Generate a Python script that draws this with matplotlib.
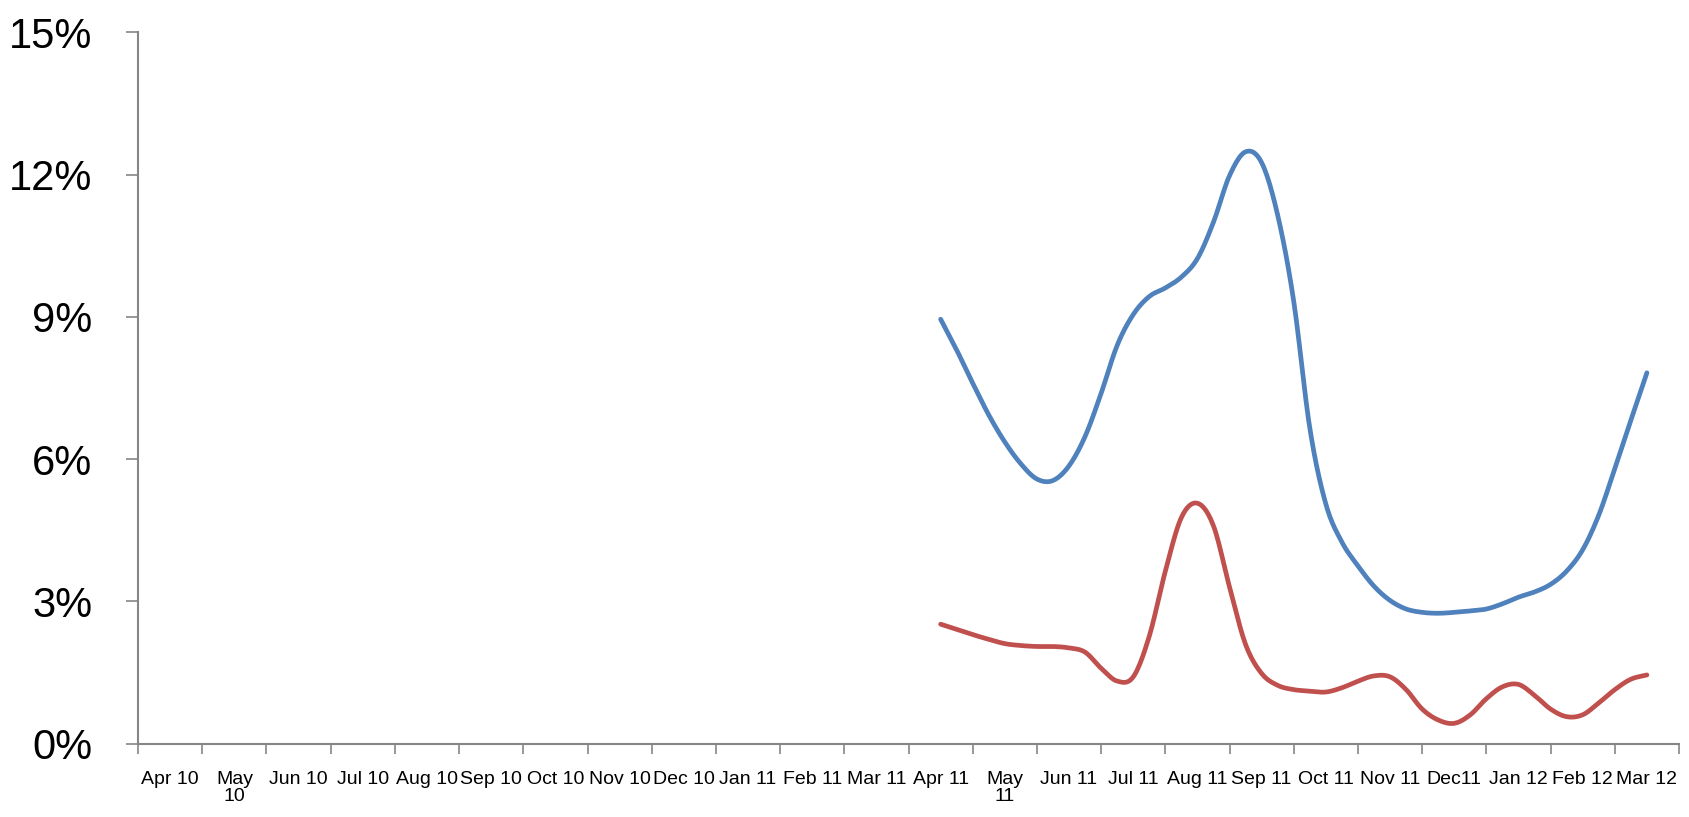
import numpy as np
import matplotlib
matplotlib.use("Agg")
import matplotlib.pyplot as plt
from matplotlib.ticker import FixedLocator, FuncFormatter

plt.rcParams['font.family'] = ['Liberation Sans', 'DejaVu Sans']

months = ["Apr 10", "May\n10", "Jun 10", "Jul 10", "Aug 10", "Sep 10", "Oct 10",
          "Nov 10", "Dec 10", "Jan 11", "Feb 11", "Mar 11", "Apr 11", "May\n11",
          "Jun 11", "Jul 11", "Aug 11", "Sep 11", "Oct 11", "Nov 11", "Dec11",
          "Jan 12", "Feb 12", "Mar 12"]

# series sampled every quarter month, starting Apr 11
start_month = 12
sample_step = 0.25

blue_vals = [8.95, 8.30, 7.60, 6.93, 6.36, 5.90, 5.58, 5.55, 5.86, 6.48,
             7.39, 8.40, 9.05, 9.43, 9.61, 9.84, 10.23, 11.00, 11.98, 12.48,
             12.25, 11.14, 9.32, 6.65, 5.05, 4.25, 3.75, 3.32, 3.02, 2.84,
             2.77, 2.75, 2.77, 2.80, 2.84, 2.95, 3.09, 3.20, 3.36, 3.64,
             4.09, 4.82, 5.80, 6.82, 7.82]

red_vals = [2.52, 2.41, 2.30, 2.20, 2.11, 2.07, 2.05, 2.05, 2.02, 1.93,
            1.59, 1.32, 1.41, 2.27, 3.64, 4.77, 5.07, 4.59, 3.30, 2.09,
            1.48, 1.23, 1.14, 1.11, 1.09, 1.18, 1.32, 1.43, 1.41, 1.14,
            0.73, 0.50, 0.43, 0.61, 0.95, 1.20, 1.25, 1.02, 0.73, 0.57,
            0.61, 0.86, 1.14, 1.36, 1.45]

y_ticks = [0, 3, 6, 9, 12, 15]

BLUE = "#4F81BD"
RED = "#C0504D"
AXIS = "#868686"


def smooth(x, y, n=12):
    # catmull-rom, like the "smoothed line" option in excel
    x = np.asarray(x, float)
    y = np.asarray(y, float)
    px = np.concatenate([[2 * x[0] - x[1]], x, [2 * x[-1] - x[-2]]])
    py = np.concatenate([[2 * y[0] - y[1]], y, [2 * y[-1] - y[-2]]])
    t = np.linspace(0, 1, n, endpoint=False)
    ox, oy = [], []
    for i in range(1, len(px) - 2):
        for p, o in ((px, ox), (py, oy)):
            p0, p1, p2, p3 = p[i - 1], p[i], p[i + 1], p[i + 2]
            o.extend(0.5 * (2 * p1 + (-p0 + p2) * t + (2 * p0 - 5 * p1 + 4 * p2 - p3) * t ** 2
                            + (-p0 + 3 * p1 - 3 * p2 + p3) * t ** 3))
    ox.append(x[-1])
    oy.append(y[-1])
    return ox, oy


fig = plt.figure(figsize=(16.9, 8.17), dpi=100)
ax = fig.add_axes([0.0817, 0.0897, 0.9118, 0.8708])

xs = start_month + sample_step * np.arange(len(blue_vals))
ax.plot(*smooth(xs, blue_vals), color=BLUE, lw=3.4, solid_joinstyle='round', solid_capstyle='round')
ax.plot(*smooth(xs, red_vals), color=RED, lw=3.4, solid_joinstyle='round', solid_capstyle='round')

ax.set_xlim(-0.5, len(months) - 0.5)
ax.set_ylim(0, 15)

# y axis
ax.set_yticks(y_ticks)
ax.yaxis.set_major_formatter(FuncFormatter(lambda v, p: "%d%%" % v))
ax.tick_params(axis='y', direction='out', length=9, width=1.2, color=AXIS,
               labelsize=30, pad=24)

# x axis: tick marks at category edges, labels in the middle
ax.xaxis.set_major_locator(FixedLocator(np.arange(len(months) + 1) - 0.5))
ax.xaxis.set_major_formatter(plt.NullFormatter())
ax.xaxis.set_minor_locator(FixedLocator(np.arange(len(months))))
ax.set_xticklabels(months, minor=True)
ax.tick_params(axis='x', which='major', direction='out', length=7, width=1.2, color=AXIS)
ax.tick_params(axis='x', which='minor', length=0, labelsize=14, pad=20)
for t in ax.xaxis.get_minorticklabels():
    t.set_verticalalignment('top')
    t.set_linespacing(1.0)

for s in ['top', 'right']:
    ax.spines[s].set_visible(False)
for s in ['left', 'bottom']:
    ax.spines[s].set_color(AXIS)
    ax.spines[s].set_linewidth(1.5)

fig.savefig("out.png", dpi=100, facecolor="white")
